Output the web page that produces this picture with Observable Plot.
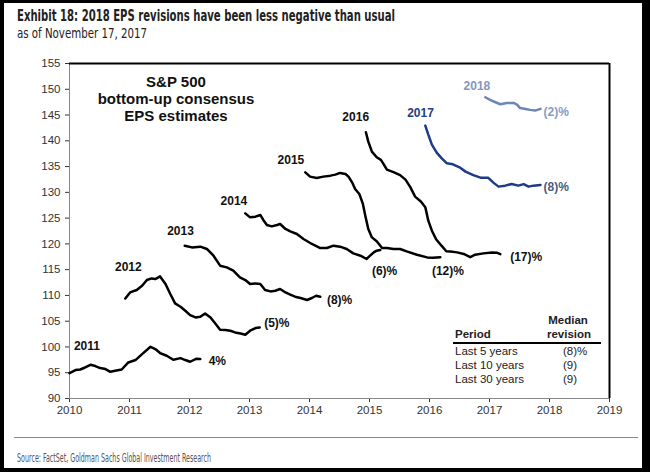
<!DOCTYPE html>
<html>
<head>
<meta charset="utf-8">
<script src="https://cdn.jsdelivr.net/npm/d3@7"></script>
<script src="https://cdn.jsdelivr.net/npm/@observablehq/plot@0.6"></script>
<style>
  html, body { margin: 0; padding: 0; background: #fff; }
  #wrap { position: relative; width: 650px; height: 472px; overflow: hidden; background: #fff; font-family: "Liberation Sans", Arial, sans-serif; }
  #border { position: absolute; left: 0; top: 0; width: 650px; height: 472px; box-sizing: border-box;
            border-style: solid; border-color: #000; border-width: 3px 8px 4px 4px; pointer-events: none; }
  .fit { position: absolute; white-space: nowrap; transform-origin: 0 50%; font-family: "Liberation Sans Narrow", "DejaVu Sans Condensed", Arial, sans-serif; }
  #title { left: 17px; top: 6px; font-size: 16px; font-weight: bold; color: #222; }
  #subtitle { left: 17px; top: 25px; font-size: 13.5px; color: #222; }
  #source { left: 17px; top: 450px; font-size: 12.5px; color: #555; }
  #sep { position: absolute; left: 14px; top: 437px; width: 624px; height: 1px; background: #8a8a8a; }
  #chart { position: absolute; left: 0; top: 0; }
  #box { position: absolute; left: 76px; top: 73px; width: 200px; text-align: center; font-weight: bold; font-size: 15px; line-height: 17px; color: #111; }
  #tbl { position: absolute; left: 453px; top: 313px; width: 148px; font-size: 11.5px; color: #222; }
  #tbl .row { position: relative; height: 14px; line-height: 14px; }
  #tbl .c1 { position: absolute; left: 2px; }
  #tbl .c2 { position: absolute; left: 110px; }
  #tbl .hdr { font-weight: bold; }
  #tbl .med { position: absolute; left: 94px; width: 42px; text-align: center; }
  #tbl .line { height: 2px; background: #000; margin: 1px 0 0 0; }
</style>
</head>
<body>
<div id="wrap">
  <div id="title" class="fit" data-w="378">Exhibit 18: 2018 EPS revisions have been less negative than usual</div>
  <div id="subtitle" class="fit" data-w="130">as of November 17, 2017</div>
  <div id="chart"></div>
  <div id="box">S&amp;P 500<br>bottom-up consensus<br>EPS estimates</div>
  <div id="tbl">
    <div class="row hdr"><span class="med">Median</span></div>
    <div class="row hdr"><span class="c1">Period</span><span class="med">revision</span></div>
    <div class="line"></div>
    <div class="row"><span class="c1">Last 5 years</span><span class="c2">(8)%</span></div>
    <div class="row"><span class="c1">Last 10 years</span><span class="c2">(9)</span></div>
    <div class="row"><span class="c1">Last 30 years</span><span class="c2">(9)</span></div>
  </div>
  <div id="sep"></div>
  <div id="source" class="fit" data-w="194">Source: FactSet, Goldman Sachs Global Investment Research</div>
  <div id="border"></div>
</div>
<script>
// ---- Data: [time (fractional year), consensus EPS ($)] ----
const eps2011 = [[2010.00,94.93],[2010.10,95.51],[2010.18,95.63],[2010.26,96.02],[2010.35,96.54],[2010.43,96.29],[2010.51,95.90],[2010.60,95.71],[2010.68,95.18],[2010.76,95.38],[2010.87,95.63],[2010.98,96.99],[2011.10,97.46],[2011.21,98.62],[2011.35,100.04],[2011.43,99.59],[2011.51,98.82],[2011.62,98.29],[2011.73,97.51],[2011.85,97.84],[2011.93,97.46],[2012.01,97.13],[2012.11,97.71],[2012.18,97.65]];
const eps2012 = [[2010.93,109.42],[2011.01,110.58],[2011.12,111.05],[2011.21,111.88],[2011.29,112.99],[2011.37,113.30],[2011.43,113.18],[2011.51,113.69],[2011.60,112.21],[2011.68,110.27],[2011.76,108.45],[2011.85,107.81],[2011.93,107.03],[2012.01,106.19],[2012.10,105.73],[2012.18,105.86],[2012.26,106.50],[2012.35,105.73],[2012.43,104.56],[2012.51,103.34],[2012.60,103.28],[2012.68,103.15],[2012.76,102.82],[2012.85,102.62],[2012.93,102.37],[2013.01,103.15],[2013.10,103.67],[2013.17,103.79]];
const eps2013 = [[2011.92,119.65],[2012.04,119.32],[2012.18,119.46],[2012.29,119.01],[2012.40,117.71],[2012.51,115.77],[2012.62,115.44],[2012.73,114.80],[2012.84,113.50],[2012.93,112.99],[2013.01,112.21],[2013.10,112.33],[2013.18,112.21],[2013.26,111.05],[2013.35,110.78],[2013.43,110.91],[2013.51,111.24],[2013.60,110.58],[2013.68,110.14],[2013.76,109.75],[2013.85,109.50],[2013.96,109.11],[2014.04,109.50],[2014.11,109.94],[2014.18,109.75]];
const eps2014 = [[2012.93,125.92],[2013.01,125.15],[2013.10,125.28],[2013.18,125.61],[2013.23,124.64],[2013.29,123.67],[2013.37,123.40],[2013.46,123.67],[2013.51,123.86],[2013.60,122.89],[2013.68,122.43],[2013.79,121.92],[2013.90,120.95],[2014.04,119.98],[2014.18,119.20],[2014.29,119.20],[2014.40,119.65],[2014.51,119.46],[2014.62,119.01],[2014.73,118.16],[2014.85,117.71],[2014.95,117.07],[2015.01,117.71],[2015.07,118.35],[2015.12,118.68],[2015.18,118.82]];
const eps2015 = [[2013.93,133.88],[2014.01,133.05],[2014.12,132.80],[2014.23,133.05],[2014.35,133.24],[2014.43,133.44],[2014.51,133.77],[2014.60,133.57],[2014.65,133.05],[2014.71,131.94],[2014.76,130.66],[2014.83,129.69],[2014.89,127.75],[2014.93,125.48],[2014.98,122.89],[2015.04,121.26],[2015.12,120.52],[2015.21,119.20],[2015.29,119.20],[2015.40,119.01],[2015.51,119.01],[2015.62,118.54],[2015.79,117.90],[2015.96,117.38],[2016.06,117.32],[2016.18,117.42]];
const eps2016 = [[2014.94,141.65],[2014.98,139.84],[2015.04,137.90],[2015.12,136.80],[2015.19,136.29],[2015.23,135.57],[2015.29,134.41],[2015.40,133.92],[2015.51,133.34],[2015.60,132.47],[2015.68,131.01],[2015.76,129.17],[2015.86,128.19],[2015.93,127.13],[2015.98,124.50],[2016.04,122.56],[2016.11,120.91],[2016.20,119.65],[2016.28,118.58],[2016.35,118.54],[2016.46,118.35],[2016.57,118.04],[2016.68,117.42],[2016.76,117.90],[2016.90,118.16],[2017.04,118.35],[2017.12,118.29],[2017.18,118.00]];
const eps2017 = [[2015.93,142.95],[2015.98,141.20],[2016.04,139.26],[2016.12,137.71],[2016.20,136.64],[2016.29,135.63],[2016.39,135.44],[2016.50,134.85],[2016.60,134.02],[2016.73,133.34],[2016.85,132.85],[2016.98,132.82],[2017.07,131.84],[2017.15,131.11],[2017.26,131.30],[2017.37,131.63],[2017.48,131.30],[2017.57,131.59],[2017.65,131.11],[2017.73,131.30],[2017.85,131.44]];
const eps2018 = [[2016.93,148.45],[2017.01,147.94],[2017.10,147.48],[2017.18,147.09],[2017.29,147.32],[2017.40,147.36],[2017.46,147.03],[2017.51,146.35],[2017.60,146.19],[2017.68,146.00],[2017.76,145.86],[2017.85,146.19]];

const seriesYears = [2011, 2012, 2013, 2014, 2015, 2016, 2017, 2018];
const seriesData  = [eps2011, eps2012, eps2013, eps2014, eps2015, eps2016, eps2017, eps2018];
const revisions   = ["4%", "(5)%", "(8)%", "(6)%", "(12)%", "(17)%", "(8)%", "(2)%"];
// annotation anchors in data space [time, EPS]
const yearLabelPos = [[2010.29,100.2],[2010.98,115.5],[2011.85,122.4],[2012.74,128.25],[2013.69,136.3],[2014.77,144.6],[2015.85,145.35],[2016.79,150.7]];
const revLabelPos  = [[2012.32,97.3],[2013.245,104.6],[2014.29,109.1],[2015.04,114.8],[2016.04,114.8],[2017.345,117.4],[2017.90,131.0],[2017.90,145.5]];

const xTicks = [2010, 2011, 2012, 2013, 2014, 2015, 2016, 2017, 2018, 2019];
const yTicks = [90, 95, 100, 105, 110, 115, 120, 125, 130, 135, 140, 145, 150, 155];

const lineColor  = {2017: "#1d3b87", 2018: "#6c86b8"};
const yearColor  = {2017: "#22407f", 2018: "#8496bf"};
const revColor   = {2017: "#4c5c7e", 2018: "#8a9bc0"};

const rows = seriesYears.flatMap((yr, i) => seriesData[i].map(([t, v]) => ({year: yr, t, v})));
const yearLabels = seriesYears.map((yr, i) => ({year: yr, t: yearLabelPos[i][0], v: yearLabelPos[i][1], text: String(yr)}));
const revLabels  = seriesYears.map((yr, i) => ({year: yr, t: revLabelPos[i][0], v: revLabelPos[i][1], text: revisions[i]}));

const chart = Plot.plot({
  width: 650,
  height: 440,
  marginTop: 63,
  marginBottom: 42,
  marginLeft: 69,
  marginRight: 41,
  style: {background: "transparent", fontFamily: "'Liberation Sans', Arial, sans-serif", fontSize: "11.5px", color: "#333"},
  x: {domain: [2010, 2019], ticks: xTicks, tickFormat: d => String(d), tickSize: 4, tickPadding: 3, label: null},
  y: {domain: [90, 155], ticks: yTicks, tickSize: 4, tickPadding: 5, label: null},
  marks: [
    Plot.ruleX([2010], {stroke: "#888", strokeWidth: 1}),
    Plot.ruleY([90], {stroke: "#888", strokeWidth: 1}),
    Plot.ruleY([155], {stroke: "#000", strokeWidth: 2}),
    Plot.ruleX([2019], {stroke: "#000", strokeWidth: 2}),
    Plot.line(rows, {x: "t", y: "v", z: "year",
      stroke: d => lineColor[d.year] || "#000",
      strokeWidth: 2.5, strokeLinejoin: "round", strokeLinecap: "round"}),
    Plot.text(yearLabels, {x: "t", y: "v", text: "text", textAnchor: "middle",
      fill: d => yearColor[d.year] || "#111", fontWeight: "bold", fontSize: 12}),
    Plot.text(revLabels, {x: "t", y: "v", text: "text", textAnchor: "start",
      fill: d => revColor[d.year] || "#111", fontWeight: "bold", fontSize: 12})
  ]
});
document.getElementById("chart").appendChild(chart);

// fit condensed header/footer text to the reference widths
document.querySelectorAll(".fit").forEach(el => {
  const target = +el.dataset.w;
  const w = el.getBoundingClientRect().width;
  if (w > 0) el.style.transform = `scaleX(${target / w})`;
});
</script>
</body>
</html>
